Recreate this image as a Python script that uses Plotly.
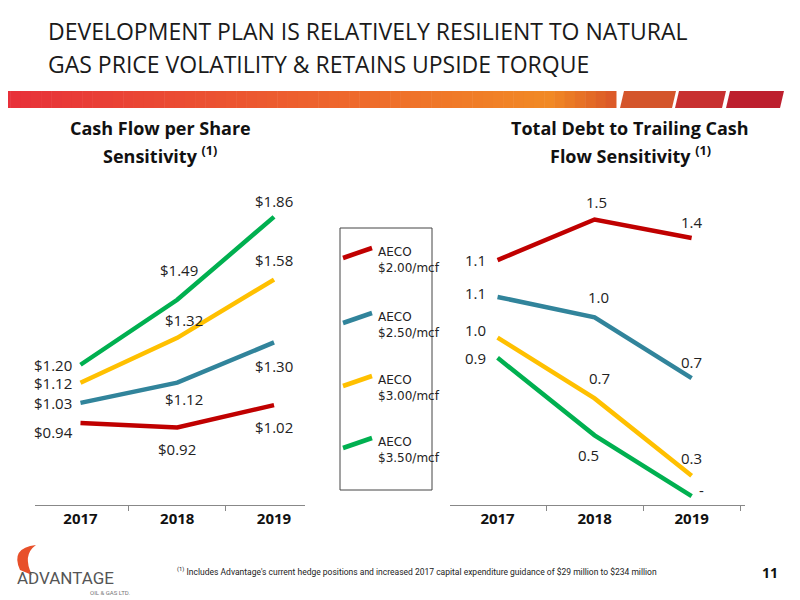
import plotly.graph_objects as go

years = ["2017", "2018", "2019"]
series_names = ["AECO<br>$2.00/mcf", "AECO<br>$2.50/mcf", "AECO<br>$3.00/mcf", "AECO<br>$3.50/mcf"]
colors = ["#c00000", "#31849b", "#ffc000", "#00b050"]

cfps = [[0.94, 0.92, 1.02], [1.03, 1.12, 1.30], [1.12, 1.32, 1.58], [1.20, 1.49, 1.86]]
cfps_labels = [["$0.94", "$0.92", "$1.02"], ["$1.03", "$1.12", "$1.30"],
               ["$1.12", "$1.32", "$1.58"], ["$1.20", "$1.49", "$1.86"]]
debt = [[1.28, 1.50, 1.40], [1.08, 0.97, 0.64], [0.86, 0.53, 0.11], [0.75, 0.33, 0.0]]
debt_labels = [["1.1", "1.5", "1.4"], ["1.1", "1.0", "0.7"], ["1.0", "0.7", "0.3"], ["0.9", "0.5", "-"]]

# label offsets (px) per point
cf_off = [[(-27, -9), (0, -22), (0, -22)], [(-27, 0), (7, -16), (0, -24)],
          [(-27, 0), (7, 18), (0, 20)], [(-27, 0), (2, 30), (0, 16)]]
db_off = [[(-22, 0), (2, 18), (0, 16)], [(-22, 4), (4, 20), (0, 16)],
          [(-22, 8), (5, 20), (0, 18)], [(-22, 0), (-6, -20), (10, 6)]]

W, H = 800, 600
OFF = 8  # page body margin
def px(x): return (x - OFF) / W
def py(y): return 1 - (y - OFF) / H

fig = go.Figure()
for i in range(4):
    fig.add_trace(go.Scatter(x=years, y=cfps[i], mode="lines", line=dict(color=colors[i], width=4.5),
                             xaxis="x", yaxis="y", showlegend=False))
    fig.add_trace(go.Scatter(x=years, y=debt[i], mode="lines", line=dict(color=colors[i], width=4.5),
                             xaxis="x2", yaxis="y2", showlegend=False))

ann = []
font_lbl = dict(family="Open Sans", size=15, color="#222")
for i in range(4):
    for j in range(3):
        dx, dy = cf_off[i][j]
        ann.append(dict(x=j, y=cfps[i][j], xref="x", yref="y", text=cfps_labels[i][j],
                        showarrow=False, xshift=dx, yshift=dy, font=font_lbl))
        dx, dy = db_off[i][j]
        ann.append(dict(x=j, y=debt[i][j], xref="x2", yref="y2", text=debt_labels[i][j],
                        showarrow=False, xshift=dx, yshift=dy, font=font_lbl))

def pa(x, y, text, font, xanchor="center", align="center"):
    ann.append(dict(x=px(x), y=py(y), xref="paper", yref="paper", xanchor=xanchor, yanchor="middle",
                    showarrow=False, align=align, text=text, font=font))

tfont = dict(family="Open Sans", size=23, color="#1a1a1a")
pa(46, 31, "DEVELOPMENT PLAN IS RELATIVELY RESILIENT TO NATURAL", tfont, "left")
pa(46, 64, "GAS PRICE VOLATILITY & RETAINS UPSIDE TORQUE", tfont, "left")
sfont = dict(family="Open Sans", size=18, color="#111")
pa(160, 128, "<b>Cash Flow per Share</b>", sfont)
pa(160, 155, "<b>Sensitivity <sup>(1)</sup></b>", sfont)
pa(630, 128, "<b>Total Debt to Trailing Cash</b>", sfont)
pa(630, 155, "<b>Flow Sensitivity <sup>(1)</sup></b>", sfont)

# Legend
shapes = [dict(type="rect", xref="paper", yref="paper", x0=px(340), x1=px(432), y0=py(228), y1=py(490),
               line=dict(color="#444", width=1))]
for i, yy in enumerate([250, 315, 378, 440]):
    shapes.append(dict(type="line", xref="paper", yref="paper", x0=px(343), x1=px(372), y0=py(yy + 8), y1=py(yy - 2),
                       line=dict(color=colors[i], width=4.5)))
    pa(376, yy + 10, series_names[i], dict(family="DejaVu Sans", size=12, color="#222"), "left", "left")

# header stripe
n = 60
def lerp(c1, c2, t): return tuple(int(c1[k] + (c2[k] - c1[k]) * t) for k in range(3))
for k in range(n):
    t = k / (n - 1)
    c = lerp((232, 48, 58), (242, 138, 37), t / 0.9) if t < 0.9 else lerp((242, 138, 37), (220, 90, 40), (t - 0.9) / 0.1)
    shapes.append(dict(type="rect", xref="paper", yref="paper", x0=px(616 * k / n), x1=px(616 * (k + 1) / n + 0.5),
                       y0=py(108), y1=py(91), line=dict(width=0), fillcolor="rgb(%d,%d,%d)" % c))
for (a, b), c in zip([(620, 672), (675, 722), (726, 780)], ["#d4552b", "#c83030", "#bd1f2e"]):
    shapes.append(dict(type="path", xref="paper", yref="paper",
                       path="M %f %f L %f %f L %f %f L %f %f Z" % (px(a), py(108), px(a + 4), py(91), px(b + 4), py(91), px(b), py(108)),
                       line=dict(width=0), fillcolor=c))

# logo flame
shapes.append(dict(type="path", xref="paper", yref="paper",
                   path="M %f %f Q %f %f %f %f Q %f %f %f %f Z" % (px(20), py(570), px(10), py(548), px(36), py(545),
                                                                    px(22), py(555), px(32), py(575)),
                   line=dict(width=0), fillcolor="#e8502a"))
pa(15, 578, "ADVANTAGE", dict(family="Roboto", size=17, color="#555"), "left")
pa(88, 592, "OIL & GAS LTD.", dict(family="Roboto", size=6, color="#777"), "left")
pa(175, 571, "<sup>(1)</sup> Includes Advantage's current hedge positions and increased 2017 capital expenditure guidance of $29 million to $234 million",
   dict(family="Roboto", size=8.5, color="#222"), "left")
pa(770, 572, "<b>11</b>", dict(family="Open Sans", size=14, color="#111"))

axfont = dict(family="Open Sans", size=15, color="#111")
fig.update_layout(
    width=W, height=H, margin=dict(l=0, r=0, t=0, b=0, autoexpand=False), plot_bgcolor="white", paper_bgcolor="white",
    xaxis=dict(domain=[px(35), px(305)], anchor="y", type="category", range=[-0.47, 2.32],
               showline=True, linecolor="#888", ticks="outside", tickson="boundaries", ticklen=5, tickcolor="#888",
               showgrid=False, tickfont=axfont, tickprefix="<b>", ticksuffix="</b>"),
    yaxis=dict(domain=[py(505), py(190)], range=[0.574, 1.98], visible=False, showgrid=False),
    xaxis2=dict(domain=[px(450), px(745)], anchor="y2", type="category", range=[-0.49, 2.55],
                showline=True, linecolor="#888", ticks="outside", tickson="boundaries", ticklen=5, tickcolor="#888",
                showgrid=False, tickfont=axfont, tickprefix="<b>", ticksuffix="</b>"),
    yaxis2=dict(domain=[py(505), py(190)], range=[-0.048, 1.66], visible=False, showgrid=False),
    annotations=ann, shapes=shapes, showlegend=False,
)
fig.write_html("out.html")
